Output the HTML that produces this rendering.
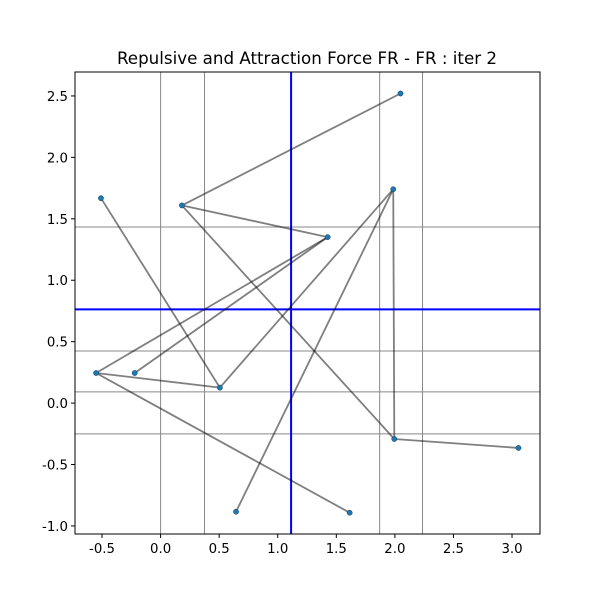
<!DOCTYPE html>
<html><head><meta charset="utf-8"><style>
body{margin:0;background:#fff;font-family:"DejaVu Sans","Liberation Sans",sans-serif}
</style></head><body>
<svg id="chart" width="600" height="600" xmlns="http://www.w3.org/2000/svg" font-family="DejaVu Sans, Liberation Sans, sans-serif">
<rect width="600" height="600" fill="#fff"/>
<text x="307" y="64" text-anchor="middle" font-size="16.7">Repulsive and Attraction Force FR - FR : iter 2</text>
<g id="grid"></g><g id="edges"></g><g id="nodes"></g><g id="axes"></g>
</svg>
<script>
const nodeX=[2.048,0.182,1.986,1.426,-0.509,-0.551,-0.221,0.506,1.995,3.055,0.644,1.614];
const nodeY=[2.52,1.609,1.741,1.351,1.668,0.245,0.245,0.126,-0.292,-0.365,-0.884,-0.892];
const edgeFrom=[0,1,1,2,8,2,2,4,7,5,6,5];
const edgeTo=[1,3,8,8,9,10,7,7,5,3,3,11];
const gridX=[0.0,0.375,1.87,2.236];
const gridY=[1.433,0.424,0.091,-0.25];
const centerX=[1.114];
const centerY=[0.763];
const xTicks=[-0.5,0.0,0.5,1.0,1.5,2.0,2.5,3.0];
const yTicks=[-1.0,-0.5,0.0,0.5,1.0,1.5,2.0,2.5];
const L=75,R=540,T=72,B=534;
const sx=v=>160.6+v*117.14, sy=v=>403.1-v*122.86;
const NS="http://www.w3.org/2000/svg";
function mk(p,tag,a){const e=document.createElementNS(NS,tag);for(const k in a)e.setAttribute(k,a[k]);p.appendChild(e);return e;}
const g=document.getElementById('grid'),ed=document.getElementById('edges'),nd=document.getElementById('nodes'),ax=document.getElementById('axes');
gridX.forEach(v=>{const e=mk(g,'line',{x1:sx(v),x2:sx(v),y1:T,y2:B,stroke:'#888','stroke-width':1});

});
gridY.forEach(v=>{const e=mk(g,'line',{x1:L,x2:R,y1:sy(v),y2:sy(v),stroke:'#888','stroke-width':1});

});
centerX.forEach(v=>{const e=mk(g,'line',{x1:sx(v),x2:sx(v),y1:T,y2:B,stroke:'#0000ff','stroke-width':2});

});
centerY.forEach(v=>{const e=mk(g,'line',{x1:L,x2:R,y1:sy(v),y2:sy(v),stroke:'#0000ff','stroke-width':2});

});
edgeFrom.forEach((a,i)=>{const b=edgeTo[i];const e=mk(ed,'line',{x1:sx(nodeX[a]),y1:sy(nodeY[a]),x2:sx(nodeX[b]),y2:sy(nodeY[b]),stroke:'#000','stroke-opacity':0.5,'stroke-width':1.8});

});
nodeX.forEach((x,i)=>{const e=mk(nd,'circle',{cx:sx(x),cy:sy(nodeY[i]),r:2.6,fill:'#1f77b4',stroke:'#0a3a5a','stroke-width':0.5});

});
const fr=mk(ax,'rect',{x:L,y:T,width:R-L,height:B-T,fill:'none',stroke:'#000','stroke-width':1});


xTicks.forEach(v=>{const x=sx(v);mk(ax,'line',{x1:x,x2:x,y1:B,y2:B+4,stroke:'#000'});
const t=mk(ax,'text',{x:x,y:B+19,'text-anchor':'middle','font-size':13.3});t.textContent=v.toFixed(1);

});
yTicks.forEach(v=>{const y=sy(v);mk(ax,'line',{x1:L-4,x2:L,y1:y,y2:y,stroke:'#000'});
const t=mk(ax,'text',{x:L-7,y:y+5,'text-anchor':'end','font-size':13.3});t.textContent=v.toFixed(1);

});
</script>
</body></html>
